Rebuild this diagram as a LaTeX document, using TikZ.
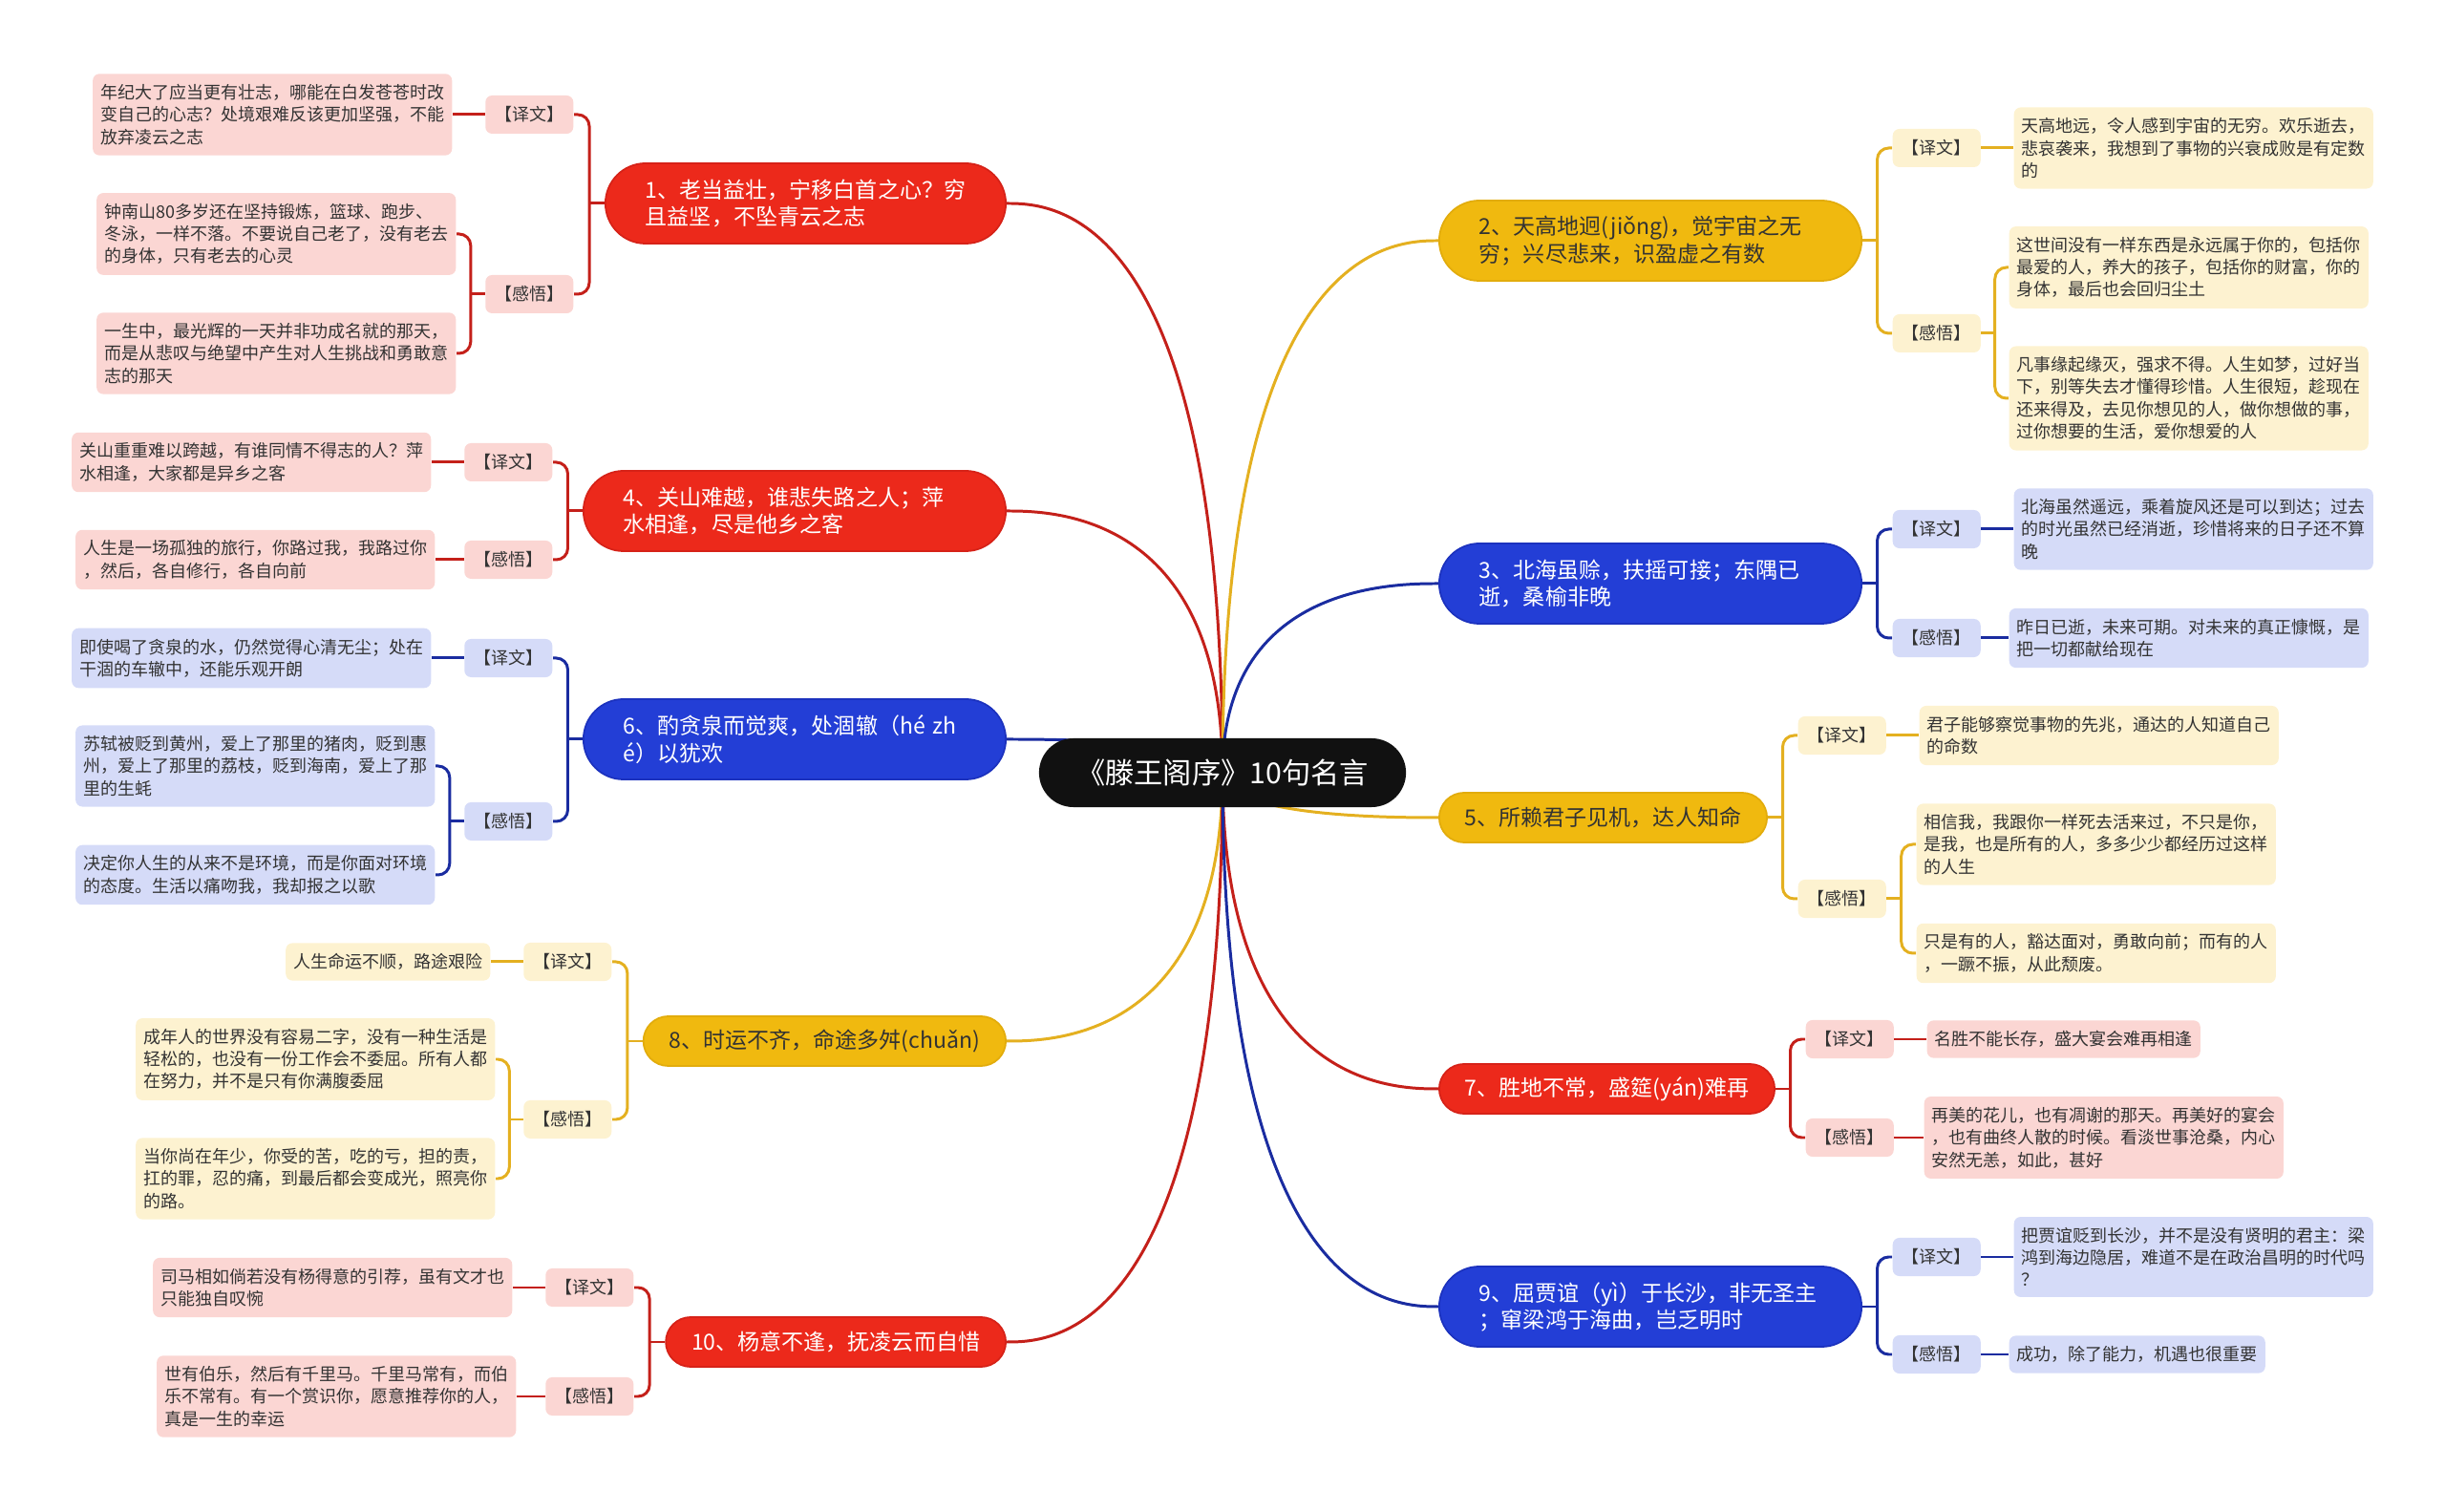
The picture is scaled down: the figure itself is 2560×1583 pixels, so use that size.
\documentclass[tikz,border=0pt]{standalone}
\usepackage{fontspec}
\setmainfont{Noto Sans CJK SC}
\usetikzlibrary{calc,backgrounds}

\definecolor{rootblack}{RGB}{17,17,17}
\definecolor{redfill}{RGB}{236,41,27}
\definecolor{rededge}{RGB}{214,34,24}
\definecolor{redline}{RGB}{196,32,26}
\definecolor{redlight}{RGB}{251,214,211}
\definecolor{bluefill}{RGB}{35,62,214}
\definecolor{blueedge}{RGB}{28,50,190}
\definecolor{blueline}{RGB}{26,44,160}
\definecolor{bluelight}{RGB}{213,219,248}
\definecolor{yellowfill}{RGB}{240,185,15}
\definecolor{yellowedge}{RGB}{226,172,12}
\definecolor{yellowline}{RGB}{228,176,32}
\definecolor{yellowlight}{RGB}{253,242,208}
\definecolor{darktext}{RGB}{51,51,51}

% fork on the left: stub out of the parent, bracket to two children
\newcommand{\forkleft}[4]{%
  \coordinate (fk) at ($(#2.west)!0.5!(#3.east)$);
  \draw[#1] (#2.west) -- (fk |- #2.west);
  \draw[#1, rounded corners=1.2mm] (#3.east) -| (fk |- #4.east) -- (#4.east);}
% same on the right
\newcommand{\forkright}[4]{%
  \coordinate (fk) at ($(#2.east)!0.5!(#3.west)$);
  \draw[#1] (#2.east) -- (fk |- #2.east);
  \draw[#1, rounded corners=1.2mm] (#3.west) -| (fk |- #4.west) -- (#4.west);}

\begin{document}
\begin{tikzpicture}[x=0.01cm, y=-0.01cm,
  rootnode/.style={fill=rootblack, text=white, rounded corners=0.36cm,
    minimum width=3.84cm, minimum height=0.72cm, font=\fontsize{8.6}{10}\selectfont},
  topicnode/.style={rounded corners=0.26cm, minimum height=0.52cm, inner xsep=0.27cm,
    inner ysep=0.1cm, line width=0.5pt, font=\fontsize{6.55}{8.05}\selectfont},
  topictwo/.style={topicnode, rounded corners=0.42cm, minimum height=0.84cm,
    inner xsep=0.42cm, text width=3.58cm, align=left},
  redtopic/.style={fill=redfill, draw=rededge, text=white},
  bluetopic/.style={fill=bluefill, draw=blueedge, text=white},
  yellowtopic/.style={fill=yellowfill, draw=yellowedge, text=darktext},
  tagnode/.style={rounded corners=0.07cm, inner xsep=0.1cm, inner ysep=0.1cm,
    minimum height=0.4cm, text=darktext, font=\fontsize{5.12}{6.63}\selectfont},
  leafnode/.style={rounded corners=0.07cm, inner xsep=0.08cm, inner ysep=0.11cm,
    align=left, text=darktext, font=\fontsize{5.12}{6.63}\selectfont},
  redbox/.style={fill=redlight},
  bluebox/.style={fill=bluelight},
  yellowbox/.style={fill=yellowlight},
  rline/.style={draw=redline, line width=0.85pt},
  bline/.style={draw=blueline, line width=0.85pt},
  yline/.style={draw=yellowline, line width=0.85pt},
]
\useasboundingbox (0,0) rectangle (2560,1583);

\node[rootnode] (root) at (1280,809) {《滕王阁序》10句名言};

% left: topic 1
\node[topictwo, redtopic, text width=3.35cm, anchor=east] (t1) at (1054,213)
  {1、老当益壮，宁移白首之心？穷\\且益坚，不坠青云之志};
\node[tagnode, redbox, anchor=east] (y1) at (601,120) {【译文】};
\node[tagnode, redbox, anchor=east] (g1) at (601,308) {【感悟】};
\node[leafnode, redbox, anchor=east] (l1a) at (474,120)
  {年纪大了应当更有壮志，哪能在白发苍苍时改\\变自己的心志？处境艰难反该更加坚强，不能\\放弃凌云之志};
\node[leafnode, redbox, anchor=east] (l1b) at (478,245)
  {钟南山80多岁还在坚持锻炼，篮球、跑步、\\冬泳，一样不落。不要说自己老了，没有老去\\的身体，只有老去的心灵};
\node[leafnode, redbox, anchor=east] (l1c) at (478,370)
  {一生中，最光辉的一天并非功成名就的那天，\\而是从悲叹与绝望中产生对人生挑战和勇敢意\\志的那天};

% left: topic 4
\node[topictwo, redtopic, anchor=east] (t4) at (1054,535)
  {4、关山难越，谁悲失路之人；萍\\水相逢，尽是他乡之客};
\node[tagnode, redbox, anchor=east] (y4) at (579,484) {【译文】};
\node[tagnode, redbox, anchor=east] (g4) at (579,586) {【感悟】};
\node[leafnode, redbox, anchor=east] (l4a) at (452,484)
  {关山重重难以跨越，有谁同情不得志的人？萍\\水相逢，大家都是异乡之客};
\node[leafnode, redbox, anchor=east] (l4b) at (456,586)
  {人生是一场孤独的旅行，你路过我，我路过你\\，然后，各自修行，各自向前};

% left: topic 6
\node[topictwo, bluetopic, anchor=east] (t6) at (1054,774)
  {6、酌贪泉而觉爽，处涸辙（hé zh\\é）以犹欢};
\node[tagnode, bluebox, anchor=east] (y6) at (579,689) {【译文】};
\node[tagnode, bluebox, anchor=east] (g6) at (579,860) {【感悟】};
\node[leafnode, bluebox, anchor=east] (l6a) at (452,689)
  {即使喝了贪泉的水，仍然觉得心清无尘；处在\\干涸的车辙中，还能乐观开朗};
\node[leafnode, bluebox, anchor=east] (l6b) at (456,802)
  {苏轼被贬到黄州，爱上了那里的猪肉，贬到惠\\州，爱上了那里的荔枝，贬到海南，爱上了那\\里的生蚝};
\node[leafnode, bluebox, anchor=east] (l6c) at (456,916)
  {决定你人生的从来不是环境，而是你面对环境\\的态度。生活以痛吻我，我却报之以歌};

% left: topic 8
\node[topicnode, yellowtopic, anchor=east] (t8) at (1054,1090) {8、时运不齐，命途多舛(chuǎn)};
\node[tagnode, yellowbox, anchor=east] (y8) at (641,1007) {【译文】};
\node[tagnode, yellowbox, anchor=east] (g8) at (641,1172) {【感悟】};
\node[leafnode, yellowbox, anchor=east] (l8a) at (514,1007) {人生命运不顺，路途艰险};
\node[leafnode, yellowbox, anchor=east] (l8b) at (519,1109)
  {成年人的世界没有容易二字，没有一种生活是\\轻松的，也没有一份工作会不委屈。所有人都\\在努力，并不是只有你满腹委屈};
\node[leafnode, yellowbox, anchor=east] (l8c) at (519,1234)
  {当你尚在年少，你受的苦，吃的亏，担的责，\\扛的罪，忍的痛，到最后都会变成光，照亮你\\的路。};

% left: topic 10
\node[topicnode, redtopic, anchor=east] (t10) at (1054,1405) {10、杨意不逢，抚凌云而自惜};
\node[tagnode, redbox, anchor=east] (y10) at (664,1348) {【译文】};
\node[tagnode, redbox, anchor=east] (g10) at (664,1462) {【感悟】};
\node[leafnode, redbox, anchor=east] (l10a) at (537,1348)
  {司马相如倘若没有杨得意的引荐，虽有文才也\\只能独自叹惋};
\node[leafnode, redbox, anchor=east] (l10b) at (541,1462)
  {世有伯乐，然后有千里马。千里马常有，而伯\\乐不常有。有一个赏识你，愿意推荐你的人，\\真是一生的幸运};

% right: topic 2
\node[topictwo, yellowtopic, anchor=west] (t2) at (1506,252)
  {2、天高地迥(jiǒng)，觉宇宙之无\\穷；兴尽悲来，识盈虚之有数};
\node[tagnode, yellowbox, anchor=west] (y2) at (1981,155) {【译文】};
\node[tagnode, yellowbox, anchor=west] (g2) at (1981,349) {【感悟】};
\node[leafnode, yellowbox, anchor=west] (l2a) at (2108,155)
  {天高地远，令人感到宇宙的无穷。欢乐逝去，\\悲哀袭来，我想到了事物的兴衰成败是有定数\\的};
\node[leafnode, yellowbox, anchor=west] (l2b) at (2103,280)
  {这世间没有一样东西是永远属于你的，包括你\\最爱的人，养大的孩子，包括你的财富，你的\\身体，最后也会回归尘土};
\node[leafnode, yellowbox, anchor=west] (l2c) at (2103,417)
  {凡事缘起缘灭，强求不得。人生如梦，过好当\\下，别等失去才懂得珍惜。人生很短，趁现在\\还来得及，去见你想见的人，做你想做的事，\\过你想要的生活，爱你想爱的人};

% right: topic 3
\node[topictwo, bluetopic, anchor=west] (t3) at (1506,611)
  {3、北海虽赊，扶摇可接；东隅已\\逝，桑榆非晚};
\node[tagnode, bluebox, anchor=west] (y3) at (1981,554) {【译文】};
\node[tagnode, bluebox, anchor=west] (g3) at (1981,668) {【感悟】};
\node[leafnode, bluebox, anchor=west] (l3a) at (2108,554)
  {北海虽然遥远，乘着旋风还是可以到达；过去\\的时光虽然已经消逝，珍惜将来的日子还不算\\晚};
\node[leafnode, bluebox, anchor=west] (l3b) at (2103,668)
  {昨日已逝，未来可期。对未来的真正慷慨，是\\把一切都献给现在};

% right: topic 5
\node[topicnode, yellowtopic, anchor=west] (t5) at (1506,856) {5、所赖君子见机，达人知命};
\node[tagnode, yellowbox, anchor=west] (y5) at (1882,770) {【译文】};
\node[tagnode, yellowbox, anchor=west] (g5) at (1882,941) {【感悟】};
\node[leafnode, yellowbox, anchor=west] (l5a) at (2009,770)
  {君子能够察觉事物的先兆，通达的人知道自己\\的命数};
\node[leafnode, yellowbox, anchor=west] (l5b) at (2006,884)
  {相信我，我跟你一样死去活来过，不只是你，\\是我，也是所有的人，多多少少都经历过这样\\的人生};
\node[leafnode, yellowbox, anchor=west] (l5c) at (2006,998)
  {只是有的人，豁达面对，勇敢向前；而有的人\\，一蹶不振，从此颓废。};

% right: topic 7
\node[topicnode, redtopic, anchor=west] (t7) at (1506,1140) {7、胜地不常，盛筵(yán)难再};
\node[tagnode, redbox, anchor=west] (y7) at (1890,1088) {【译文】};
\node[tagnode, redbox, anchor=west] (g7) at (1890,1191) {【感悟】};
\node[leafnode, redbox, anchor=west] (l7a) at (2017,1088) {名胜不能长存，盛大宴会难再相逢};
\node[leafnode, redbox, anchor=west] (l7b) at (2014,1191)
  {再美的花儿，也有凋谢的那天。再美好的宴会\\，也有曲终人散的时候。看淡世事沧桑，内心\\安然无恙，如此，甚好};

% right: topic 9
\node[topictwo, bluetopic, anchor=west] (t9) at (1506,1368)
  {9、屈贾谊（yì）于长沙，非无圣主\\；窜梁鸿于海曲，岂乏明时};
\node[tagnode, bluebox, anchor=west] (y9) at (1981,1316) {【译文】};
\node[tagnode, bluebox, anchor=west] (g9) at (1981,1418) {【感悟】};
\node[leafnode, bluebox, anchor=west] (l9a) at (2108,1316)
  {把贾谊贬到长沙，并不是没有贤明的君主：梁\\鸿到海边隐居，难道不是在政治昌明的时代吗\\？};
\node[leafnode, bluebox, anchor=west] (l9b) at (2103,1418) {成功，除了能力，机遇也很重要};

\begin{pgfonlayer}{background}
  % main branches out of the title
  \foreach \tgt/\lcol in {t1.east/rline, t4.east/rline, t6.east/bline, t8.east/yline,
      t10.east/rline, t2.west/yline, t3.west/bline, t5.west/yline, t7.west/rline, t9.west/bline}
    \draw[\lcol] (root.center) let \p1=(root.center), \p2=(\tgt) in
      .. controls (\x1,\y2) and ({\x1+0.8*(\x2-\x1)},\y2) .. (\p2);

  % topics to tags
  \forkleft{rline}{t1}{y1}{g1}
  \forkleft{rline}{t4}{y4}{g4}
  \forkleft{bline}{t6}{y6}{g6}
  \forkleft{yline}{t8}{y8}{g8}
  \forkleft{rline}{t10}{y10}{g10}
  \forkright{yline}{t2}{y2}{g2}
  \forkright{bline}{t3}{y3}{g3}
  \forkright{yline}{t5}{y5}{g5}
  \forkright{rline}{t7}{y7}{g7}
  \forkright{bline}{t9}{y9}{g9}

  % tags to notes
  \draw[rline] (y1.west) -- (l1a.east);
  \forkleft{rline}{g1}{l1b}{l1c}
  \draw[rline] (y4.west) -- (l4a.east);
  \draw[rline] (g4.west) -- (l4b.east);
  \draw[bline] (y6.west) -- (l6a.east);
  \forkleft{bline}{g6}{l6b}{l6c}
  \draw[yline] (y8.west) -- (l8a.east);
  \forkleft{yline}{g8}{l8b}{l8c}
  \draw[rline] (y10.west) -- (l10a.east);
  \draw[rline] (g10.west) -- (l10b.east);
  \draw[yline] (y2.east) -- (l2a.west);
  \forkright{yline}{g2}{l2b}{l2c}
  \draw[bline] (y3.east) -- (l3a.west);
  \draw[bline] (g3.east) -- (l3b.west);
  \draw[yline] (y5.east) -- (l5a.west);
  \forkright{yline}{g5}{l5b}{l5c}
  \draw[rline] (y7.east) -- (l7a.west);
  \draw[rline] (g7.east) -- (l7b.west);
  \draw[bline] (y9.east) -- (l9a.west);
  \draw[bline] (g9.east) -- (l9b.west);
\end{pgfonlayer}
\end{tikzpicture}
\end{document}
